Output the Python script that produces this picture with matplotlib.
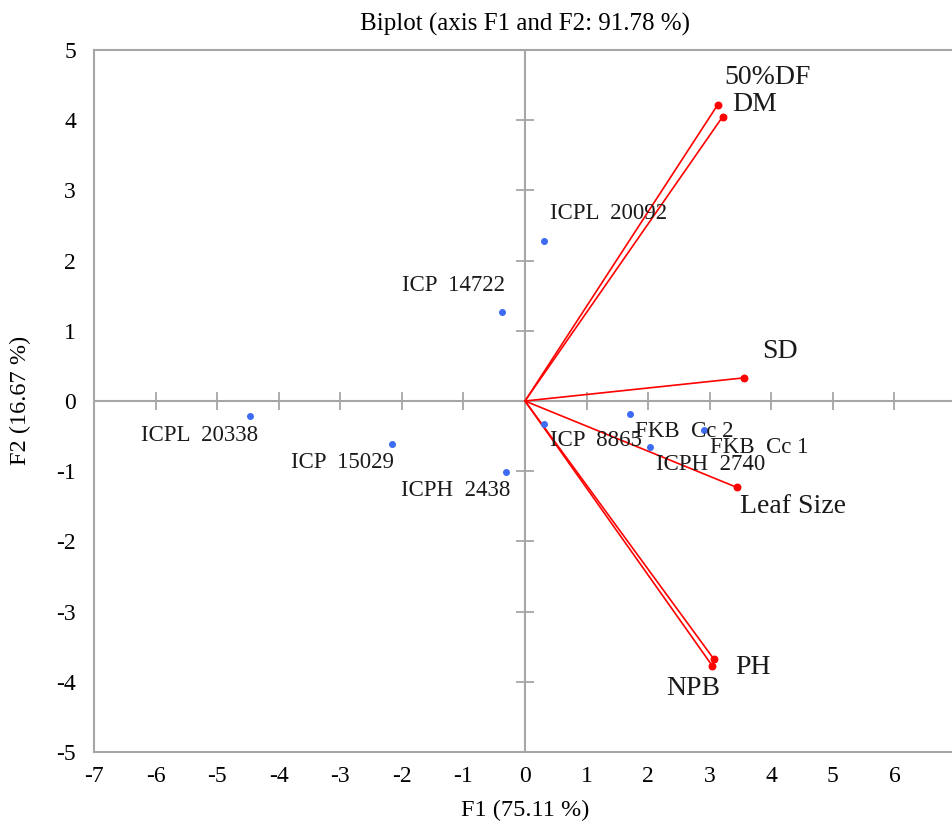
import numpy as np
import matplotlib.pyplot as plt

plt.rcParams['font.family'] = ['Liberation Serif', 'DejaVu Serif']
plt.rcParams['axes.unicode_minus'] = False

# observations (F1, F2)
obs_names = ['ICPL  20092', 'ICP  14722', 'ICPL  20338', 'ICP  15029', 'ICPH  2438',
             'ICP  8865', 'FKB  Cc 2', 'FKB  Cc 1', 'ICPH  2740']
obs_f1 = [0.31, -0.37, -4.46, -2.16, -0.31, 0.31, 1.70, 2.91, 2.03]
obs_f2 = [2.28, 1.27, -0.21, -0.61, -1.01, -0.33, -0.19, -0.42, -0.65]

# variables (vector ends)
var_names = ['50%DF', 'DM', 'SD', 'Leaf Size', 'PH', 'NPB']
var_f1 = [3.13, 3.21, 3.56, 3.44, 3.07, 3.04]
var_f2 = [4.22, 4.05, 0.33, -1.23, -3.68, -3.77]

xticks = np.arange(-7, 8)
yticks = np.arange(-5, 6)

# label placement (pixels from point, alignment)
obs_off = [(6, 27, 'left'), (3, 26, 'right'), (8, -20, 'right'), (2, -19, 'right'),
           (4, -19, 'right'), (6, -16, 'left'), (5, -17, 'left'), (6, -17, 'left'),
           (6, -18, 'left')]
var_off = [(7, 27, 'left'), (10, 12, 'left'), (18, 26, 'left'), (3, -19, 'left'),
           (21, -8, 'left'), (8, -23, 'right')]

fig = plt.figure(figsize=(9.52, 8.24), dpi=100)
ax = fig.add_axes([94/952, 72/824, 862/952, 702/824])
ax.set_xlim(-7, 7)
ax.set_ylim(-5, 5)

grey = '#a6a6a6'
for s in ax.spines.values():
    s.set_color(grey)
    s.set_linewidth(1.5)
ax.axhline(0, color=grey, lw=1.5, zorder=1)
ax.axvline(0, color=grey, lw=1.5, zorder=1)
ax.plot(xticks[1:-1], np.zeros(len(xticks) - 2), ls='none', marker='|', ms=13, mew=1.3, color=grey, zorder=1)
ax.plot(np.zeros(len(yticks) - 2), yticks[1:-1], ls='none', marker='_', ms=13, mew=1.3, color=grey, zorder=1)

ax.set_xticks(xticks)
ax.set_yticks(yticks)
ax.tick_params(length=0, labelsize=17, pad=10)
ax.tick_params(axis='y', pad=13)

for x, y in zip(var_f1, var_f2):
    ax.plot([0, x], [0, y], color='red', lw=1.2, zorder=2)
ax.scatter(var_f1, var_f2, s=22, color='red', zorder=3)
ax.scatter(obs_f1, obs_f2, s=16, color='#3d6bf2', zorder=3)

for n, x, y, (dx, dy, ha) in zip(obs_names, obs_f1, obs_f2, obs_off):
    ax.annotate(n, (x, y), xytext=(dx, dy), textcoords='offset pixels', ha=ha, va='center',
                fontsize=16.5, color='#1a1a1a')
for n, x, y, (dx, dy, ha) in zip(var_names, var_f1, var_f2, var_off):
    ax.annotate(n, (x, y), xytext=(dx, dy), textcoords='offset pixels', ha=ha, va='center',
                fontsize=20, color='#1a1a1a')

fig.text(525/952, 1 - 24/824, 'Biplot (axis F1 and F2: 91.78 %)', ha='center', va='center', fontsize=18)
fig.text(525/952, 1 - 810/824, 'F1 (75.11 %)', ha='center', va='center', fontsize=17.5)
fig.text(20/952, 1 - 400/824, 'F2 (16.67 %)', ha='center', va='center', rotation=90, fontsize=17.5)

fig.savefig('out.png')
